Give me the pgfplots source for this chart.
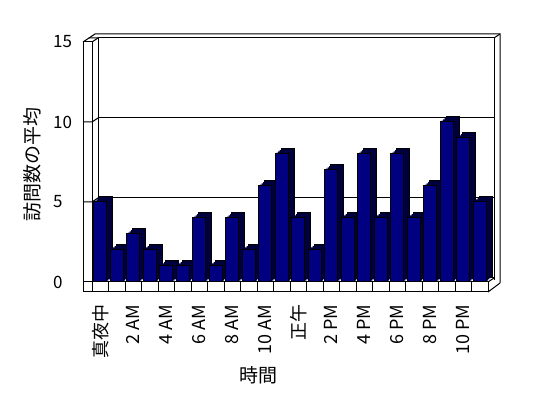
\documentclass[border=0pt]{standalone}
\usepackage{fontspec}
\setmainfont{Noto Sans CJK JP}
\usepackage{pgfplots}
\pgfplotsset{compat=1.18}
\definecolor{barfront}{RGB}{0,0,128}
\definecolor{barside}{RGB}{0,0,60}
\begin{document}
\begin{tikzpicture}
\useasboundingbox (0,0) rectangle (548pt,398pt);
% frame behind (image coords: y down)
\begin{scope}[x=1pt,y=1pt,shift={(0,398)},yscale=-1,line width=1pt]
  \draw (89,38)--(95,34)--(500,34)--(500,283);
  \draw (494,38)--(500,34);
  \draw (98,38)--(98,280);
  \draw (494,38)--(494,280);
  \draw (83,42)--(89,38)--(98,38);
  \draw (92,42)--(98,38);
  \draw (83,42) rectangle (92,292);
  \foreach \yy in {122,202} {\draw (83,\yy)--(92,\yy)--(98,\yy-4);}
\end{scope}
\begin{axis}[
  at={(100.25pt,116pt)}, anchor=origin,
  scale only axis, width=396pt, height=240pt,
  xmin=-0.5, xmax=23.5, ymin=0, ymax=15,
  axis line style={draw=none},
  major tick style={draw=none},
  ytick={0,5,10,15},
  ymajorgrids,
  major grid style={black, line width=1pt, xshift=6pt, yshift=4pt},
  xtick={0,2,...,22},
  xticklabels={真夜中,2 AM,4 AM,6 AM,8 AM,10 AM,正午,2 PM,4 PM,6 PM,8 PM,10 PM},
  xticklabel style={rotate=90, anchor=east, inner sep=0pt, font=\fontsize{18}{18}\selectfont},
  xticklabel shift=18pt,
  yticklabel style={anchor=west, inner sep=0pt, xshift=-39pt, font=\fontsize{17}{17}\selectfont},
  /pgf/number format/assume math mode=true,
  xlabel={時間},
  ylabel={訪問数の平均},
  xlabel style={at={(axis description cs:0.4217,-0.3875)}, anchor=center, font=\fontsize{19}{19}\selectfont},
  ylabel style={at={(axis description cs:-0.1515,0.4875)}, anchor=center, font=\fontsize{19}{19}\selectfont},
  ybar, bar width=13.3pt, bar shift=0pt,
  clip=false,
]
\addplot[fill=barside, draw=black, line width=1pt, bar shift=0pt, xshift=6pt, yshift=5pt] coordinates {
(0,5)(1,2)(2,3)(3,2)(4,1)(5,1)(6,4)(7,1)(8,4)(9,2)(10,6)(11,8)(12,4)(13,2)(14,7)(15,4)(16,8)(17,4)(18,8)(19,4)(20,6)(21,10)(22,9)(23,5)};
\addplot[fill=barside, draw=none, bar shift=0pt, xshift=4.5pt, yshift=3.75pt] coordinates {
(0,5)(1,2)(2,3)(3,2)(4,1)(5,1)(6,4)(7,1)(8,4)(9,2)(10,6)(11,8)(12,4)(13,2)(14,7)(15,4)(16,8)(17,4)(18,8)(19,4)(20,6)(21,10)(22,9)(23,5)};
\addplot[fill=barside, draw=none, bar shift=0pt, xshift=3pt, yshift=2.5pt] coordinates {
(0,5)(1,2)(2,3)(3,2)(4,1)(5,1)(6,4)(7,1)(8,4)(9,2)(10,6)(11,8)(12,4)(13,2)(14,7)(15,4)(16,8)(17,4)(18,8)(19,4)(20,6)(21,10)(22,9)(23,5)};
\addplot[fill=barside, draw=none, bar shift=0pt, xshift=1.5pt, yshift=1.25pt] coordinates {
(0,5)(1,2)(2,3)(3,2)(4,1)(5,1)(6,4)(7,1)(8,4)(9,2)(10,6)(11,8)(12,4)(13,2)(14,7)(15,4)(16,8)(17,4)(18,8)(19,4)(20,6)(21,10)(22,9)(23,5)};
\addplot[fill=barfront, draw=black, line width=1pt, bar shift=0pt] coordinates {
(0,5)(1,2)(2,3)(3,2)(4,1)(5,1)(6,4)(7,1)(8,4)(9,2)(10,6)(11,8)(12,4)(13,2)(14,7)(15,4)(16,8)(17,4)(18,8)(19,4)(20,6)(21,10)(22,9)(23,5)};
\end{axis}
% floor front face (foreground)
\begin{scope}[x=1pt,y=1pt,shift={(0,398)},yscale=-1,line width=1pt]
  \fill[white] (83,283) rectangle (488,292);
  \draw (83,282) rectangle (488,292);
  \foreach \k in {0,...,24} {\draw (92+16.5*\k,282)--(92+16.5*\k,292);}
  \draw (488,292)--(500,283);
  \draw (488,282)--(494,278);
\end{scope}
\end{tikzpicture}
\end{document}
